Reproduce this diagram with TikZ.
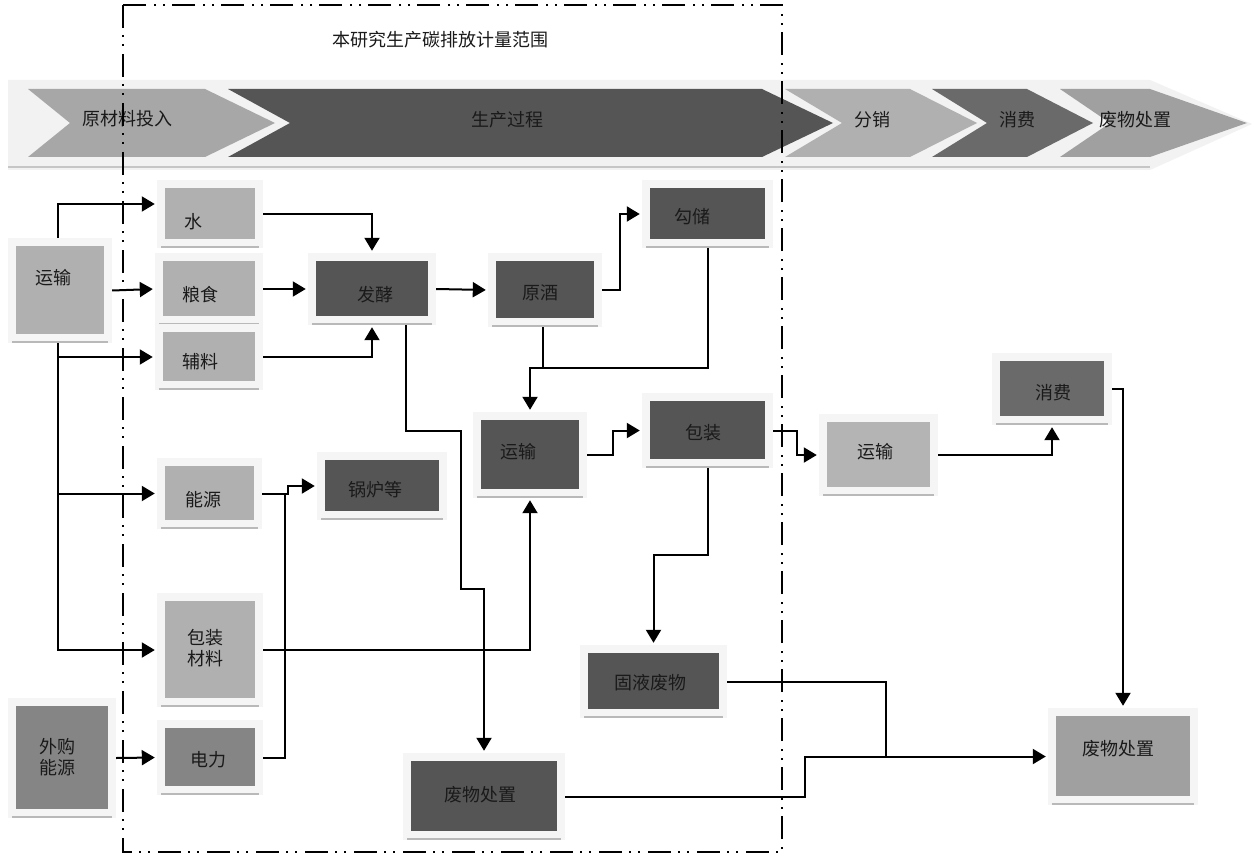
\documentclass[tikz,border=0pt]{standalone}
\usepackage{fontspec}
\newfontfamily\cjk{Noto Sans CJK SC}
\usetikzlibrary{arrows.meta,calc,fit}
\definecolor{framecol}{HTML}{F5F5F5}
\definecolor{bandcol}{HTML}{F2F2F2}
\definecolor{lgray}{HTML}{B0B0B0}
\definecolor{dgray}{HTML}{555555}
\definecolor{mgray}{HTML}{858585}
\definecolor{cgray}{HTML}{6A6A6A}
\definecolor{wgray}{HTML}{A0A0A0}
\definecolor{rgray}{HTML}{B4B4B4}
\definecolor{txt}{HTML}{1A1A1A}
\tikzset{
  frame/.style={inner sep=0pt, fill=framecol, draw=none},
  shadowline/.style={line width=2.5pt, draw=gray!55},
  lbl/.style={font=\cjk\fontsize{18}{21}\selectfont, text=txt, inner sep=0pt, align=center},
  conn/.style={line width=2pt, draw=black},
  arr/.style={conn, -{Triangle[length=13pt,width=15pt]}, shorten >=2pt},
  scope/.style={line width=2.2pt, dash pattern=on 23pt off 7pt on 2pt off 7pt on 2pt off 8pt},
}
\newcommand\bx[6]{%
  \coordinate (#1a) at (#2);
  \coordinate (#1b) at (#3);
  \node[frame, fit=(#1a)(#1b)] (#1) {};
  \coordinate (#1c) at ($(#1a)+(8,8)$);
  \coordinate (#1d) at ($(#1b)+(-8,-9)$);
  \node[inner sep=0pt, draw=none, fill=#4, fit=(#1c)(#1d)] (#1i) {};
  \draw[shadowline] ($(#1a |- #1b)+(4,-1)$) -- ($(#1b)+(-4,-1)$);
  \node[lbl] (#1t) at (#5) {#6};
}
\begin{document}
\begin{tikzpicture}[x=1pt,y=-1pt]
\useasboundingbox[fill=white] (0,0) rectangle (1254,856);

% title
\node[lbl] (title) at (440,40) {本研究生产碳排放计量范围};

% banner
\fill[bandcol] (8,80) -- (1150,80) -- (1252,124) -- (1150,170) -- (8,170) -- cycle;
\draw[line width=2pt, gray!45] (8,167) -- (1150,167);
\fill[lgray!95!black] (28,89) -- (205,89) -- (275,123) -- (205,157) -- (28,157) -- (70,123) -- cycle;
\fill[dgray] (228,89) -- (762,89) -- (833,123) -- (762,157) -- (228,157) -- (290,123) -- cycle;
\fill[lgray] (785,89) -- (910,89) -- (977,123) -- (910,157) -- (785,157) -- (842,123) -- cycle;
\fill[cgray] (932,89) -- (1027,89) -- (1093,123) -- (1027,157) -- (932,157) -- (987,123) -- cycle;
\fill[wgray] (1060,89) -- (1150,89) -- (1247,123) -- (1150,157) -- (1060,157) -- (1110,123) -- cycle;
\node[lbl] (b1) at (127,119) {原材料投入};
\node[lbl] (b2) at (507,120) {生产过程};
\node[lbl] (b3) at (872,120) {分销};
\node[lbl] (b4) at (1017,120) {消费};
\node[lbl] (b5) at (1135,120) {废物处置};

% boxes
\bx{ysL}{8,238}{112,343}{lgray}{53,278}{运输}
\bx{shui}{157,180}{263,248}{lgray}{193,222}{水}
\bx{ls}{155,253}{263,325}{lgray}{200,295}{粮食}
\bx{fl}{155,324}{263,390}{lgray}{200,362}{辅料}
\bx{fj}{308,253}{436,325}{dgray}{375,295}{发酵}
\bx{yj}{488,253}{602,327}{dgray}{540,293}{原酒}
\bx{gc}{642,180}{773,248}{dgray}{692,217}{勾储}
\bx{ysM}{473,412}{587,498}{dgray}{518,452}{运输}
\bx{bz}{642,393}{773,468}{dgray}{703,433}{包装}
\bx{ny}{157,458}{262,529}{lgray}{203,500}{能源}
\bx{gl}{317,452}{447,520}{dgray}{375,490}{锅炉等}
\bx{bzcl}{157,593}{263,707}{lgray}{205,648}{包装\\材料}
\bx{wg}{8,698}{116,818}{mgray}{57,757}{外购\\能源}
\bx{dl}{157,720}{263,795}{mgray}{208,760}{电力}
\bx{gy}{580,645}{727,718}{dgray}{650,683}{固液废物}
\bx{fwM}{403,753}{565,840}{dgray}{480,795}{废物处置}
\bx{ysR}{819,414}{938,496}{rgray}{875,452}{运输}
\bx{xf}{992,353}{1112,425}{cgray}{1053,393}{消费}
\bx{fwR}{1048,708}{1198,805}{wgray}{1118,749}{废物处置}

% connectors
\draw[arr] ($(ysL.north)+(-2,0)$) |- ($(shui.west)+(0,-10)$);
\draw[arr] (ysL.east) -- (ls.west);
\draw[arr] ($(ysL.south)+(-2,0)$) |- (fl.west);
\draw[arr] ($(ysL.south)+(-2,0)$) |- (ny.west);
\draw[arr] ($(ysL.south)+(-2,0)$) |- (bzcl.west);
\draw[arr] (shui.east) -| (fj.north);
\draw[arr] (ls.east) -- (fj.west);
\draw[arr] (fl.east) -| (fj.south);
\draw[arr] (fj.east) -- (yj.west);
\draw[arr] (yj.east) -- ++(18,0) |- (gc.west);
\draw[conn] ($(yj.south)+(-2,0)$) -- ++(0,41);
\draw[arr] (gc.south) |- ($(ysM.north)+(0,-44)$) -- (ysM.north);
\draw[arr] (ysM.east) -- ++(26,0) |- (bz.west);
\draw[arr] (bz.east) -- ++(24,0) |- (ysR.west);
\draw[arr] (ysR.east) -| (xf.south);
\draw[arr] (xf.east) -| (fwR.north);
\draw[arr] (bz.south) -- ++(0,87) -| (gy.north);
\draw[arr] ($(fj.south east)+(-30,0)$) |- (461,431) -- (461,589) -| (fwM.north);
\draw[arr] (bzcl.east) -| (ysM.south);
\draw[arr] (ny.east) -- ++(26,0) |- (gl.west);
\draw[conn] (dl.east) -| ($(ny.east)+(23,0)$);
\draw[arr] (wg.east) -- (dl.west);
\draw[conn] (gy.east) -| ($(fwR.west)+(-162,0)$);
\draw[arr] (fwM.east) -| ($(fwR.west)+(-243,0)$) -- (fwR.west);

% scope boundary
\draw[scope] (123,5) rectangle (782,852);
\end{tikzpicture}
\end{document}
